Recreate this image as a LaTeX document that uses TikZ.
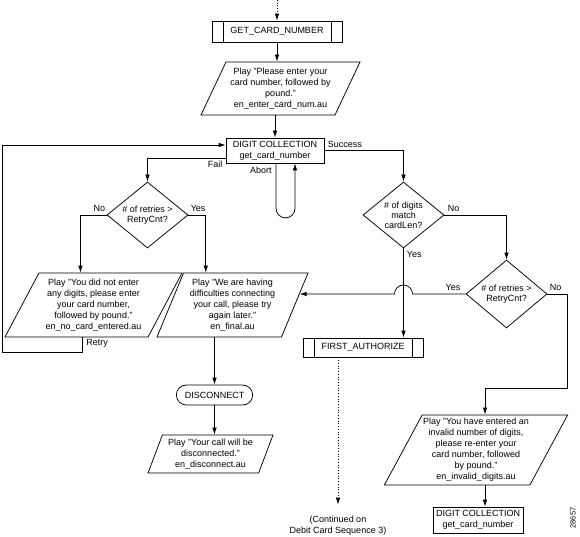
\documentclass[tikz,border=0pt]{standalone}
\usepackage{fontspec}
\setmainfont{Liberation Sans}
\usetikzlibrary{positioning,arrows.meta,shapes.geometric,shapes.misc,calc}

\begin{document}
\begin{tikzpicture}[
    x=1pt, y=-1pt,
    >={Latex[length=7pt,width=4.5pt]},
    line width=0.75pt,
    font=\fontsize{9}{11}\selectfont,
    box/.style={rectangle, draw, inner sep=1pt, align=center},
    proc/.style={box, minimum height=20pt, path picture={
        \draw ($(path picture bounding box.north west)+(11,0)$) -- ($(path picture bounding box.south west)+(11,0)$);
        \draw ($(path picture bounding box.north east)+(-11,0)$) -- ($(path picture bounding box.south east)+(-11,0)$);}},
    io/.style={trapezium, draw, trapezium stretches body=true, inner sep=1pt, align=center},
    dec/.style={diamond, draw, aspect=1.2, inner sep=0pt, minimum width=81pt, minimum height=66pt, align=center, font=\fontsize{9}{10}\selectfont},
    term/.style={rounded rectangle, draw, minimum width=83pt, minimum height=20pt},
    note/.style={inner sep=1pt}
]
\useasboundingbox (0,0) rectangle (580,537);

% === Card number prompt ===
\coordinate (top) at (277,0);
\node[proc, minimum width=130pt, minimum height=21pt] (gcn) at (277,31.5) {GET\_CARD\_NUMBER};
\node[io, trapezium left angle=60, trapezium right angle=120, minimum width=159pt, minimum height=53pt] (play) at (280.5,88.5)
    {Play "Please enter your\\card number, followed by\\pound."\\en\_enter\_card\_num.au};
\node[box, minimum width=98pt, minimum height=25pt] (dc) at (275,150.5) {DIGIT COLLECTION\\get\_card\_number};

% Decisions
\node[dec] (retry1) at (147.5,215) {\# of retries >\\RetryCnt?};
\node[dec] (match) at (403.5,215) {\# of digits\\match\\cardLen?};
\node[dec, minimum height=68pt] (retry2) at (506.5,294) {\# of retries >\\RetryCnt?};

% === Left branch ===
\node[io, trapezium left angle=58, trapezium right angle=122, minimum width=177pt, minimum height=64pt] (nodig) at (93.5,305)
    {Play "You did not enter\\any digits, please enter\\your card number,\\followed by pound."\\en\_no\_card\_entered.au};
\node[io, trapezium left angle=64, trapezium right angle=116, minimum width=151pt, minimum height=64pt] (final) at (232.5,305)
    {Play "We are having\\difficulties connecting\\your call, please try\\again later."\\en\_final.au};
\node[term] (disc) at (214.5,395) {DISCONNECT};
\node[io, trapezium left angle=66, trapezium right angle=114, minimum width=125pt, minimum height=38pt] (bye) at (210.5,454)
    {Play "Your call will be\\disconnected."\\en\_disconnect.au};

% === Right branch ===
\node[proc, minimum width=120pt, minimum height=19pt] (fa) at (363,347.5) {FIRST\_AUTHORIZE};
\node[align=center] (cont) at (338,526) {(Continued on\\Debit Card Sequence 3)};
\node[io, trapezium left angle=60, trapezium right angle=120, minimum width=178pt, minimum height=70pt] (inv) at (476,450)
    {Play "You have entered an\\invalid number of digits,\\please re-enter your\\card number, followed\\by pound."\\en\_invalid\_digits.au};
\node[box, minimum width=90pt, minimum height=26pt] (dc2) at (478,520) {DIGIT COLLECTION\\get\_card\_number};

\node[rotate=90, font=\fontsize{7.5}{7.5}\selectfont] (fig) at (573,518) {28657};

% Main column
\draw[->, dotted] (top) -- (gcn.north);
\draw[->] (gcn.south) -- (gcn.south |- play.north);
\draw[->] (dc.north |- play.south) -- (dc.north);

% Abort loop
\draw[->] ($(dc.south)+(1,0)$) -- ++(0,45) arc[start angle=180, end angle=0, radius=9.5] -- ($(dc.south)+(20,0)$);
\node[note, anchor=north east] (abort) at ($(dc.south)+(-2,2)$) {Abort};

% Fail / retry loop
\draw[->] ($(dc.west)+(0,7.5)$) -| (retry1.north);
\node[note, anchor=north east] (fail) at ($(dc.west)+(-2,9)$) {Fail};
\draw[->] (retry1.west) -| ($(nodig.top left corner)!0.29!(nodig.top right corner)$);
\draw[->] (retry1.east) -| ($(final.top left corner)!0.18!(final.top right corner)$);
\node[note, anchor=south east] (no1) at ($(retry1.west)+(0,-2)$) {No};
\node[note, anchor=south west] (yes1) at ($(retry1.east)+(1,-2)$) {Yes};
\coordinate (retryjoin) at (82,352);
\coordinate (back) at (2,352);
\draw[->] (nodig.south -| retryjoin) -- (retryjoin) -- (back) |- ($(dc.west)+(0,-5.5)$);
\node[note, anchor=north west] (retry) at ($(nodig.south -| retryjoin)+(3,1)$) {Retry};
\draw[->] (final.south -| disc.north) -- (disc.north);
\draw[->] (disc.south) -- (disc.south |- bye.north);

% Success branch
\draw[->] (dc.east) -| (match.north);
\node[note, anchor=south west] (succ) at ($(dc.east)+(2,-2)$) {Success};
\draw[->] (match.south) -- (match.south |- fa.north);
\draw[->] (match.east) -| (retry2.north);
\node[note, anchor=north west] (yes2) at ($(match.south)+(2,2)$) {Yes};
\node[note, anchor=south west] (no2) at ($(match.east)+(2,-2)$) {No};
\draw[->] (retry2.west) -- ($(match.south |- retry2.west)+(9,0)$) arc[start angle=0, end angle=-180, radius=9]
    -- ($(final.top right corner)!0.33!(final.bottom right corner)$);
\node[note, anchor=south east] (yes3) at ($(retry2.west)+(-4,-2)$) {Yes};
\node[note, anchor=south west] (no3) at ($(retry2.east)+(1,-2)$) {No};
\coordinate (noturn) at (567,388);
\coordinate (invcol) at (485,388);
\draw[->] (retry2.east) -| (noturn) -- (invcol) -- (invcol |- inv.north);
\draw[->] (invcol |- inv.south) -- (invcol |- dc2.north);
\draw[->, dotted, shorten >=8pt] (fa.south -| cont.north) -- (cont.north);
\end{tikzpicture}
\end{document}
